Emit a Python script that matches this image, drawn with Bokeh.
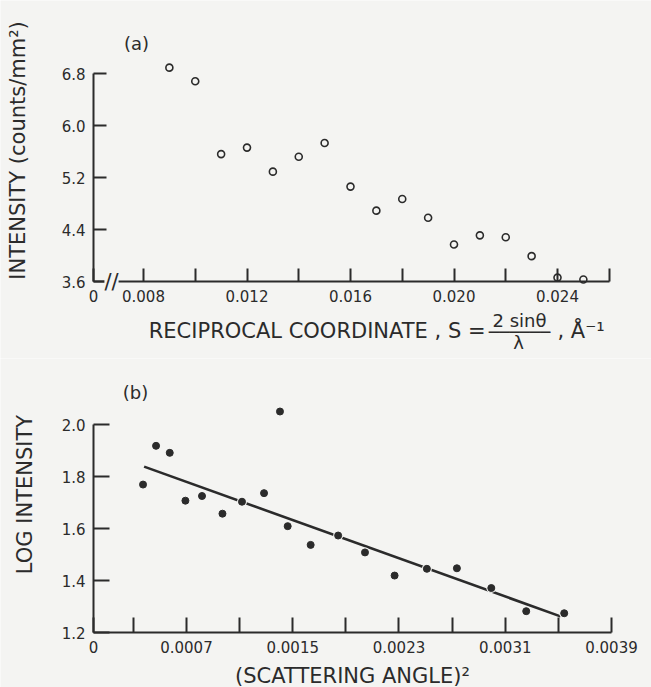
import math
from bokeh.plotting import figure
from bokeh.layouts import column
from bokeh.models import FixedTicker, CustomJSTickFormatter, PrintfTickFormatter, Label
from bokeh.embed import file_html
from bokeh.resources import INLINE

# ---------------- data ----------------
# panel (a): reciprocal coordinate S (1/Angstrom) vs intensity (counts/mm^2)
s_a = [0.009, 0.010, 0.011, 0.012, 0.013, 0.014, 0.015, 0.016, 0.017,
       0.018, 0.019, 0.020, 0.021, 0.022, 0.023, 0.024, 0.025]
intensity_a = [6.89, 6.68, 5.56, 5.66, 5.29, 5.52, 5.73, 5.06, 4.69,
               4.87, 4.58, 4.17, 4.31, 4.28, 3.99, 3.66, 3.63]
a_y_ticks = [3.6, 4.4, 5.2, 6.0, 6.8]
a_x_major = [0.00607, 0.008, 0.012, 0.016, 0.020, 0.024]
a_x_minor = [0.010, 0.014, 0.018, 0.022, 0.026]

# panel (b): (scattering angle)^2 vs log intensity
angle2_b = [0.000373, 0.000471, 0.000574, 0.000692, 0.000817, 0.000971, 0.001118,
            0.001284, 0.001404, 0.001462, 0.001635, 0.001842, 0.002044, 0.002267,
            0.002510, 0.002736, 0.002995, 0.003258, 0.003544]
logint_b = [1.769, 1.918, 1.891, 1.707, 1.725, 1.657, 1.703,
            1.736, 2.050, 1.609, 1.537, 1.573, 1.508, 1.419,
            1.445, 1.447, 1.371, 1.282, 1.274]
fit_x = [0.000381, 0.003516]
fit_y = [1.838, 1.262]
b_y_ticks = [1.2, 1.4, 1.6, 1.8, 2.0]
b_x_major = [0.0, 0.0007, 0.0015, 0.0023, 0.0031, 0.0039]
b_x_minor = [0.0003, 0.0011, 0.0019, 0.0027, 0.0035]

# ---------------- style ----------------
W = 651
BG = "#f4f4f2"
INK = "#2b2b2b"
FONT = "DejaVu Sans"


def ranges(h, x0_val, x0_px, x1_val, x1_px, y0_val, y0_px, y1_val, y1_px):
    """Ranges such that the plotting frame fills the whole canvas and the
    given axis values land on the given canvas pixels."""
    kx = (x1_px - x0_px) / (x1_val - x0_val)
    ky = (y0_px - y1_px) / (y1_val - y0_val)
    xr = (x0_val - x0_px / kx, x0_val + (W - x0_px) / kx)
    yr = (y0_val - (h - y0_px) / ky, y0_val + y0_px / ky)
    return xr, yr


def make_fig(h, xr, yr, x_axis_at, y_axis_at):
    p = figure(width=W, height=h, x_range=xr, y_range=yr,
               output_backend="svg", toolbar_location=None,
               min_border=0, background_fill_color=BG, border_fill_color=BG)
    p.title.visible = False
    p.grid.visible = False
    p.outline_line_color = None
    p.xaxis[0].fixed_location = x_axis_at
    p.yaxis[0].fixed_location = y_axis_at
    for ax in (p.xaxis[0], p.yaxis[0]):
        ax.axis_line_color = INK
        ax.axis_line_width = 2
        ax.major_tick_line_color = INK
        ax.major_tick_line_width = 2
        ax.minor_tick_line_color = INK
        ax.minor_tick_line_width = 2
        ax.major_tick_out = 0
        ax.minor_tick_out = 0
        ax.major_label_text_font = FONT
        ax.major_label_text_font_size = "15px"
        ax.major_label_text_color = INK
        ax.major_label_standoff = 8
    return p


def add_label(p, page_top, px, py, text, size, align="center", baseline="middle",
              angle=0.0, bg=None):
    # canvas units: pixels from the figure canvas' top-left corner
    lab = Label(x=px, y=py - page_top, x_units="canvas", y_units="canvas",
                text=text, text_font=FONT, text_font_size=size, text_color=INK,
                text_align=align, text_baseline=baseline, angle=angle)
    if bg is not None:
        lab.background_fill_color = bg
    p.add_layout(lab)


# ---------------- panel (a) ----------------
H1 = 358
xr1, yr1 = ranges(H1, 0.008, 143, 0.024, 557, 3.6, 281, 6.8, 73)
p1 = make_fig(H1, xr1, yr1, a_y_ticks[0], a_x_major[0])

p1.xaxis[0].ticker = FixedTicker(ticks=a_x_major, minor_ticks=a_x_minor)
p1.xaxis[0].formatter = CustomJSTickFormatter(
    code="return tick < 0.007 ? '0' : tick.toFixed(3);")
p1.xaxis[0].bounds = (a_x_major[0], a_x_minor[-1])
p1.xaxis[0].major_tick_in = 13
p1.xaxis[0].minor_tick_in = 13
p1.yaxis[0].ticker = FixedTicker(ticks=a_y_ticks)
p1.yaxis[0].formatter = PrintfTickFormatter(format="%.1f")
p1.yaxis[0].bounds = (a_y_ticks[0], a_y_ticks[-1])
p1.yaxis[0].major_tick_in = 13

p1.scatter(s_a, intensity_a, marker="circle", size=7, fill_color=None,
           line_color=INK, line_width=1.6)

add_label(p1, 0, 136, 43, "(a)", "18px")
add_label(p1, 0, 17, 150, "INTENSITY (counts/mm²)", "21px", angle=math.pi / 2)
add_label(p1, 0, 485, 330, "RECIPROCAL COORDINATE , S =", "21px", align="right")
add_label(p1, 0, 519, 320, "2 sinθ", "18px")
add_label(p1, 0, 519, 331, "──────", "17px")
add_label(p1, 0, 518, 342, "λ", "18px")
add_label(p1, 0, 557, 330, ",  Å⁻¹", "21px", align="left")
add_label(p1, 0, 111, 281, "//", "21px", bg=BG)

# ---------------- panel (b) ----------------
H2 = 329
TOP2 = H1
xr2, yr2 = ranges(H2, 0.0, 93, 0.0039, 611, 1.2, 632 - TOP2, 2.0, 424 - TOP2)
p2 = make_fig(H2, xr2, yr2, b_y_ticks[0], b_x_major[0])

p2.xaxis[0].ticker = FixedTicker(ticks=b_x_major, minor_ticks=b_x_minor)
p2.xaxis[0].formatter = CustomJSTickFormatter(
    code="return tick == 0 ? '0' : tick.toFixed(4);")
p2.xaxis[0].bounds = (b_x_major[0], b_x_major[-1])
p2.xaxis[0].major_tick_in = 15
p2.xaxis[0].minor_tick_in = 15
p2.yaxis[0].ticker = FixedTicker(ticks=b_y_ticks)
p2.yaxis[0].formatter = PrintfTickFormatter(format="%.1f")
p2.yaxis[0].bounds = (b_y_ticks[0], b_y_ticks[-1])
p2.yaxis[0].major_tick_in = 16

p2.line(fit_x, fit_y, line_color=INK, line_width=2.6)
# background halos make the fitted line break around the points that sit on it
p2.scatter(angle2_b, logint_b, marker="circle", size=10, fill_color=BG, line_color=None)
p2.scatter(angle2_b, logint_b, marker="circle", size=7, fill_color=INK, line_color=INK)

add_label(p2, TOP2, 135, 392, "(b)", "18px")
add_label(p2, TOP2, 24, 494, "LOG INTENSITY", "21px", angle=math.pi / 2)
add_label(p2, TOP2, 352, 675, "(SCATTERING ANGLE)²", "21px")

layout = column(p1, p2, spacing=0)
open("out.html", "w").write(file_html(layout, INLINE))
